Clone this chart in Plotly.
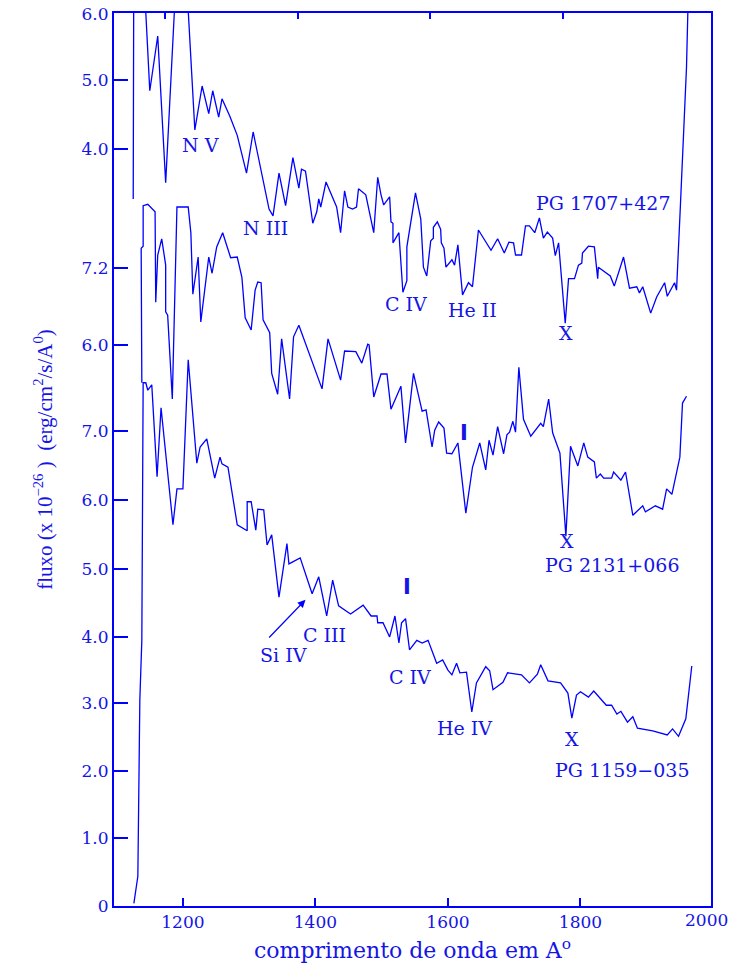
import plotly.graph_objects as go

BLUE = "#0000ff"
TXT = "#1414e6"
SERIF = "DejaVu Serif"

# ---- data (wavelength in Angstrom, flux in the plot's stacked display units) ----
# PG 1707+427 (top spectrum)
wl_top = [1125, 1126, 1142, 1150, 1162, 1174, 1187, 1190, 1206, 1218, 1229, 1239, 1245, 1254, 1259,
          1271, 1282, 1296, 1306, 1319, 1330, 1336, 1345, 1355, 1366, 1375, 1379, 1385, 1396, 1402,
          1405, 1408, 1416, 1432, 1438, 1444, 1449, 1456, 1462, 1465, 1476, 1488, 1494, 1499, 1503,
          1512, 1514, 1517, 1517, 1526, 1530, 1532, 1538, 1538, 1551, 1559, 1563, 1568, 1574, 1578,
          1578, 1584, 1589, 1590, 1594, 1597, 1606, 1610, 1615, 1622, 1631, 1637, 1646, 1665, 1675,
          1685, 1692, 1699, 1702, 1711, 1717, 1723, 1731, 1738, 1744, 1750, 1758, 1762, 1767, 1777,
          1782, 1791, 1797, 1802, 1803, 1812, 1821, 1826, 1827, 1845, 1851, 1865, 1874, 1885, 1889,
          1894, 1906, 1915, 1927, 1931, 1942, 1945, 1951, 1956, 1960, 1963]
fx_top = [10.46, 14.5, 13.6, 12.06, 12.87, 10.70, 13.21, 14.0, 13.6, 11.48, 12.13, 11.72, 12.06, 11.67, 11.94,
          11.68, 11.40, 10.84, 11.45, 10.84, 10.31, 10.21, 10.84, 10.36, 11.07, 10.62, 10.90, 10.87, 10.10, 10.27,
          10.46, 10.34, 10.71, 10.34, 9.96, 10.58, 10.34, 10.31, 10.34, 10.61, 10.52, 9.96, 10.78, 10.52, 10.37,
          10.49, 10.12, 10.10, 9.81, 9.96, 9.29, 9.08, 9.25, 9.75, 10.55, 10.16, 9.45, 9.32, 9.84, 9.88,
          10.04, 10.12, 10.01, 9.81, 9.73, 9.45, 9.56, 9.48, 9.78, 9.04, 9.22, 9.16, 10.00, 9.70, 9.87,
          9.66, 9.82, 9.81, 9.63, 9.63, 10.06, 10.06, 9.96, 10.18, 9.88, 9.97, 9.88, 9.62, 9.81, 8.62,
          9.28, 9.28, 9.48, 9.51, 9.66, 9.76, 9.75, 9.28, 9.45, 9.32, 9.17, 9.60, 9.14, 9.16, 9.07,
          9.16, 8.77, 9.01, 9.22, 9.02, 9.22, 9.11, 10.4, 11.4, 12.4, 13.6]

# PG 2131+066 (middle spectrum)
wl_mid = [1138, 1137, 1140, 1140, 1147, 1158, 1159, 1162, 1168, 1174, 1174, 1177, 1184, 1191, 1208,
          1212, 1215, 1223, 1227, 1239, 1244, 1251, 1260, 1272, 1282, 1289, 1294, 1303, 1309, 1313,
          1318, 1321, 1331, 1334, 1343, 1349, 1361, 1367, 1375, 1410, 1419, 1438, 1444, 1461, 1470,
          1479, 1481, 1488, 1499, 1508, 1514, 1529, 1536, 1548, 1561, 1567, 1576, 1580, 1586, 1594,
          1598, 1606, 1615, 1627, 1637, 1648, 1657, 1662, 1668, 1675, 1684, 1689, 1693, 1698, 1702,
          1707, 1714, 1725, 1740, 1744, 1752, 1758, 1769, 1778, 1785, 1796, 1805, 1811, 1821, 1824,
          1830, 1835, 1847, 1850, 1861, 1868, 1879, 1894, 1898, 1913, 1924, 1930, 1938, 1950, 1954, 1960]
fx_mid = [7.74, 9.73, 9.76, 10.36, 10.38, 10.27, 8.93, 9.63, 9.87, 9.48, 8.79, 8.74, 7.50, 10.34, 10.34,
          9.96, 9.05, 9.60, 8.64, 9.60, 9.36, 9.75, 9.96, 9.59, 9.60, 9.30, 8.70, 8.52, 9.11, 9.23,
          9.22, 8.67, 8.48, 7.88, 7.57, 8.39, 7.50, 8.42, 8.59, 7.65, 8.39, 7.78, 8.21, 8.20, 8.03,
          8.31, 8.30, 7.53, 7.87, 7.87, 7.35, 7.69, 6.85, 7.88, 7.32, 7.34, 6.79, 7.04, 7.16, 7.07,
          6.70, 6.69, 6.85, 5.81, 6.49, 6.85, 6.45, 6.89, 6.67, 7.09, 6.69, 6.97, 7.01, 7.17, 7.01,
          7.97, 7.20, 6.95, 7.14, 7.09, 7.50, 7.00, 6.70, 5.47, 6.80, 6.51, 6.85, 6.64, 6.57, 6.33,
          6.39, 6.33, 6.33, 6.42, 6.30, 6.42, 5.78, 5.92, 5.83, 5.92, 5.87, 6.17, 6.09, 6.64, 7.44, 7.54]

# PG 1159-035 (bottom spectrum)
wl_bot = [1126, 1132, 1135, 1138, 1140, 1144, 1147, 1153, 1161, 1167, 1185, 1191, 1200, 1208, 1221,
          1226, 1236, 1248, 1256, 1259, 1268, 1282, 1297, 1297, 1303, 1310, 1313, 1322, 1327, 1334,
          1345, 1357, 1360, 1377, 1395, 1405, 1417, 1426, 1435, 1453, 1472, 1484, 1493, 1494, 1502,
          1512, 1520, 1526, 1530, 1536, 1542, 1553, 1561, 1570, 1583, 1592, 1600, 1606, 1613, 1618,
          1628, 1630, 1636, 1643, 1648, 1657, 1663, 1668, 1683, 1690, 1711, 1723, 1735, 1740, 1751,
          1770, 1781, 1787, 1794, 1800, 1812, 1820, 1839, 1847, 1855, 1861, 1871, 1879, 1886, 1909,
          1931, 1939, 1948, 1959, 1968]
fx_bot = [0.04, 0.44, 3.05, 3.93, 7.74, 7.74, 7.63, 7.71, 6.35, 7.37, 5.64, 6.17, 6.17, 8.08, 6.55,
          6.79, 6.91, 6.33, 6.64, 6.54, 6.49, 5.64, 5.55, 5.98, 5.98, 5.56, 5.87, 5.86, 5.34, 5.49,
          4.57, 5.36, 5.06, 5.15, 4.62, 4.87, 4.29, 4.82, 4.44, 4.32, 4.45, 4.29, 4.29, 4.19, 4.19,
          3.98, 4.29, 3.89, 4.19, 4.25, 3.79, 3.93, 3.89, 3.93, 3.59, 3.64, 3.49, 3.42, 3.59, 3.45,
          3.46, 3.30, 2.87, 3.30, 3.39, 3.54, 3.48, 3.20, 3.31, 3.45, 3.42, 3.30, 3.43, 3.57, 3.33,
          3.30, 3.15, 2.78, 3.12, 3.17, 3.09, 3.18, 2.97, 2.97, 2.84, 2.88, 2.72, 2.80, 2.63, 2.59,
          2.53, 2.62, 2.51, 2.77, 3.55]

# y-axis ticks: stacked scales (bottom, middle, top spectra)
y_tickvals = [0, 1.006, 1.997, 3.003, 3.98, 4.985, 6.006, 7.027, 8.30, 9.44, 11.20, 12.22, 13.20]
y_ticktext = ["0", "1.0", "2.0", "3.0", "4.0", "5.0", "6.0", "7.0", "6.0", "7.2", "4.0", "5.0", "6.0"]
x_tickvals = [1200, 1400, 1600, 1800]
x_ticktext = ["1200", "1400", "1600", "1800"]

# line identifications: (text, wavelength, flux)
labels = [
    ("N V", 1226, 11.26), ("N III", 1325, 10.03), ("C IV", 1536, 8.91), ("He II", 1637, 8.82),
    ("PG 1707+427", 1835, 10.40), ("X", 1778, 8.48),
    ("X", 1779, 5.40), ("PG 2131+066", 1849, 5.04),
    ("Si IV", 1352, 3.71), ("C III", 1413, 4.01), ("C IV", 1542, 3.39), ("He IV", 1625, 2.63),
    ("X", 1787, 2.47), ("PG 1159\u2212035", 1863, 2.01),
]
bars = [(1624, 7.00), (1538, 4.72)]

fig = go.Figure()
line = dict(color=BLUE, width=1.3)
for wl, fx in [(wl_top, fx_top), (wl_mid, fx_mid), (wl_bot, fx_bot)]:
    fig.add_trace(go.Scatter(x=wl, y=fx, mode="lines", line=line, hoverinfo="skip", showlegend=False))
# dummy trace to activate the top (mirror-tick) axis
fig.add_trace(go.Scatter(x=[None], y=[None], xaxis="x2", yaxis="y", showlegend=False, hoverinfo="skip"))

for t, x, y in labels:
    fig.add_annotation(x=x, y=y, text=t, showarrow=False,
                       font=dict(family=SERIF, size=19, color=TXT))
for x, y in bars:
    fig.add_annotation(x=x, y=y, text="I", showarrow=False,
                       font=dict(family="DejaVu Sans", size=21, color=TXT, weight="bold"))
# Si IV arrow
fig.add_annotation(x=1385, y=4.53, ax=1328, ay=3.95, axref="x", ayref="y", text="",
                   showarrow=True, arrowhead=2, arrowsize=1.3, arrowwidth=1.2, arrowcolor=BLUE)
# 2000 label at right edge
fig.add_annotation(x=1990, y=0, xref="x", yref="paper", yanchor="top", yshift=-2, text="2000",
                   showarrow=False, font=dict(family=SERIF, size=17, color=TXT))

fig.update_layout(
    template="none",
    width=735, height=963,
    margin=dict(l=114, r=24, t=13, b=57),
    paper_bgcolor="white", plot_bgcolor="white",
    font=dict(family=SERIF, color=TXT),
    xaxis=dict(range=[1096, 1997], tickvals=x_tickvals, ticktext=x_ticktext, automargin=False,
               ticks="inside", ticklen=8, tickwidth=2, tickcolor=BLUE,
               showline=True, linecolor=BLUE, linewidth=2, mirror=True,
               showgrid=False, zeroline=False,
               tickfont=dict(family=SERIF, size=17, color=TXT),
               title=dict(text="comprimento de onda em A<sup>o</sup>", standoff=12,
                          font=dict(family=SERIF, size=22, color=TXT))),
    xaxis2=dict(range=[1123, 2024], overlaying="x", side="top", anchor="y", automargin=False,
                tickvals=x_tickvals, ticks="inside", ticklen=6, tickwidth=2, tickcolor=BLUE,
                showticklabels=False, showline=False, showgrid=False, zeroline=False),
    yaxis=dict(range=[0, 13.21], tickvals=y_tickvals, ticktext=y_ticktext, automargin=False,
               ticks="inside", ticklen=14, tickwidth=2, tickcolor=BLUE,
               showline=True, linecolor=BLUE, linewidth=2, mirror=True,
               showgrid=False, zeroline=False,
               tickfont=dict(family=SERIF, size=17, color=TXT),
               title=dict(text="fluxo (x 10<sup>\u221226</sup> )  (erg/cm<sup>2</sup>/s/A<sup>0</sup>)",
                          standoff=23, font=dict(family="Liberation Serif", size=21, color=TXT))),
)

fig.write_html("out.html")
